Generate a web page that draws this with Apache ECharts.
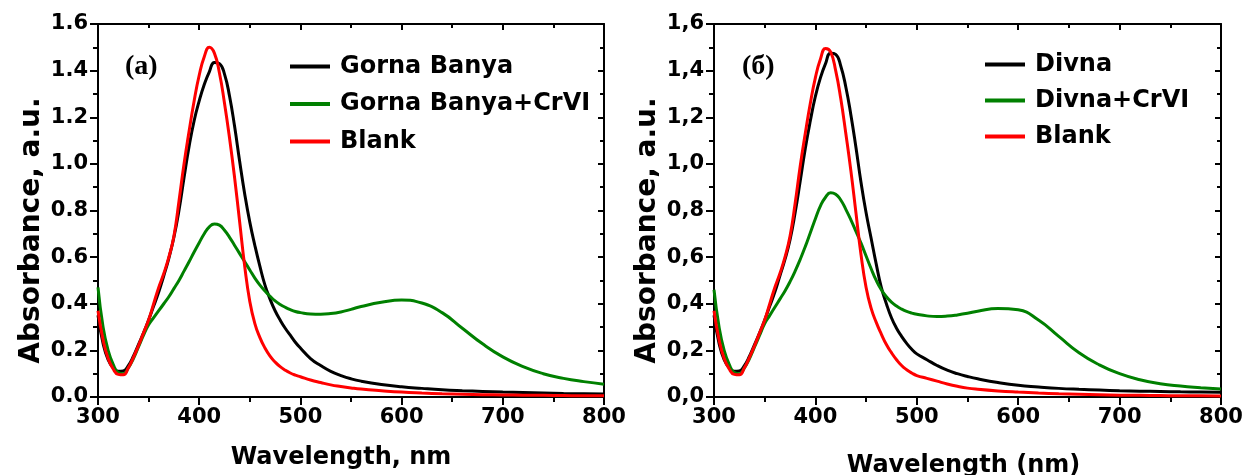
<!DOCTYPE html>
<html>
<head>
<meta charset="utf-8">
<script src="https://cdn.jsdelivr.net/npm/echarts@6/dist/echarts.min.js"></script>
<style>
html,body{margin:0;padding:0;background:#fff;}
#chart{width:1245px;height:475px;}
</style>
</head>
<body>
<div id="chart"></div>
<script>
// Sample wavelengths (nm)
const wavelengths = [300,305,310,315,320,325,330,335,340,345,350,355,360,365,370,375,380,385,390,395,400,405,410,415,420,425,430,435,440,445,450,455,460,465,470,475,480,485,490,495,500,510,520,530,540,550,560,580,600,620,640,660,680,700,720,740,760,780,800];

// Panel (a)
const gornaBanya = [0.35,0.23,0.16,0.125,0.11,0.112,0.135,0.175,0.225,0.275,0.33,0.39,0.45,0.52,0.595,0.685,0.80,0.94,1.075,1.185,1.27,1.34,1.395,1.435,1.43,1.385,1.29,1.16,1.01,0.87,0.75,0.65,0.56,0.48,0.42,0.37,0.33,0.295,0.265,0.235,0.21,0.165,0.135,0.11,0.092,0.078,0.068,0.054,0.044,0.037,0.031,0.027,0.024,0.021,0.019,0.017,0.015,0.014,0.013];
const gornaBanyaCrVI = [0.47,0.30,0.20,0.14,0.105,0.10,0.125,0.165,0.215,0.265,0.31,0.34,0.37,0.40,0.43,0.465,0.50,0.54,0.58,0.622,0.662,0.70,0.73,0.742,0.737,0.715,0.685,0.65,0.615,0.58,0.545,0.51,0.48,0.455,0.432,0.412,0.397,0.385,0.375,0.367,0.362,0.356,0.355,0.358,0.365,0.376,0.388,0.406,0.416,0.403,0.362,0.295,0.228,0.172,0.13,0.1,0.08,0.066,0.055];
const blankA = [0.37,0.245,0.165,0.12,0.097,0.095,0.125,0.17,0.22,0.275,0.33,0.40,0.47,0.53,0.60,0.69,0.84,1.00,1.14,1.27,1.38,1.46,1.50,1.475,1.39,1.26,1.11,0.94,0.75,0.56,0.41,0.315,0.255,0.21,0.175,0.15,0.13,0.115,0.103,0.094,0.087,0.073,0.062,0.052,0.045,0.039,0.034,0.027,0.021,0.017,0.014,0.012,0.010,0.009,0.008,0.007,0.006,0.005,0.005];

// Panel (б)
const divna = [0.35,0.23,0.16,0.125,0.11,0.112,0.135,0.175,0.225,0.275,0.33,0.39,0.45,0.52,0.59,0.675,0.79,0.925,1.065,1.185,1.29,1.37,1.43,1.475,1.47,1.42,1.33,1.21,1.07,0.92,0.79,0.68,0.57,0.47,0.40,0.34,0.295,0.26,0.23,0.205,0.185,0.16,0.135,0.115,0.10,0.088,0.078,0.062,0.05,0.043,0.037,0.033,0.03,0.027,0.025,0.024,0.022,0.021,0.02];
const divnaCrVI = [0.46,0.30,0.20,0.14,0.105,0.10,0.125,0.165,0.215,0.265,0.315,0.35,0.385,0.42,0.455,0.495,0.54,0.59,0.645,0.705,0.765,0.82,0.857,0.876,0.87,0.845,0.805,0.76,0.71,0.66,0.605,0.55,0.50,0.46,0.43,0.407,0.39,0.377,0.367,0.36,0.355,0.348,0.345,0.347,0.352,0.359,0.368,0.38,0.374,0.33,0.26,0.19,0.138,0.10,0.074,0.057,0.047,0.04,0.034];
const blankB = [0.37,0.245,0.165,0.12,0.097,0.095,0.125,0.17,0.22,0.275,0.33,0.40,0.47,0.53,0.60,0.69,0.83,0.99,1.13,1.26,1.37,1.45,1.495,1.48,1.40,1.28,1.13,0.97,0.79,0.61,0.47,0.38,0.32,0.27,0.225,0.19,0.16,0.135,0.117,0.103,0.092,0.08,0.068,0.056,0.046,0.038,0.033,0.026,0.021,0.017,0.014,0.012,0.01,0.008,0.007,0.006,0.005,0.005,0.004];

const legendA = ['Gorna Banya','Gorna Banya+CrVI','Blank'];
const legendB = ['Divna','Divna+CrVI','Blank'];
const panelLabels = ['(a)','(б)'];
const xTitles = ['Wavelength, nm','Wavelength (nm)'];
const yTitle = 'Absorbance, a.u.';

const FONT = 'DejaVu Sans';
const pairs = ys => wavelengths.map((w,i)=>[w, ys[i]]);

function xAxes(grid, title, gap, pad){
  return [{
    gridIndex: grid, type:'value', min:300, max:800, interval:100, position:'bottom',
    axisLine:{show:true, onZero:false, lineStyle:{color:'#000', width:2}},
    axisTick:{show:true, inside:false, length:8, lineStyle:{color:'#000', width:2}},
    minorTick:{show:true, splitNumber:2, length:5, lineStyle:{color:'#000', width:2}},
    splitLine:{show:false}, minorSplitLine:{show:false},
    axisLabel:{color:'#000', fontFamily:FONT, fontWeight:'bold', fontSize:21, margin:10},
    name:title, nameLocation:'middle', nameGap:gap,
    nameTextStyle:{color:'#000', fontFamily:FONT, fontWeight:'bold', fontSize:24, padding:pad}
  },{
    gridIndex: grid, type:'value', min:300, max:800, interval:100, position:'top',
    axisLine:{show:true, onZero:false, lineStyle:{color:'#000', width:2}},
    axisTick:{show:true, inside:true, length:6, lineStyle:{color:'#000', width:2}},
    minorTick:{show:true, splitNumber:2, length:4, lineStyle:{color:'#000', width:2}},
    splitLine:{show:false}, axisLabel:{show:false}
  }];
}
function yAxes(grid, fmt){
  return [{
    gridIndex: grid, type:'value', min:0, max:1.6, interval:0.2, position:'left',
    axisLine:{show:true, onZero:false, lineStyle:{color:'#000', width:2}},
    axisTick:{show:true, inside:false, length:8, lineStyle:{color:'#000', width:2}},
    minorTick:{show:true, splitNumber:2, length:5, lineStyle:{color:'#000', width:2}},
    splitLine:{show:false}, minorSplitLine:{show:false},
    axisLabel:{color:'#000', fontFamily:FONT, fontWeight:'bold', fontSize:21, margin:10, formatter:fmt},
    name:yTitle, nameLocation:'middle', nameGap:52, nameRotate:90,
    nameTextStyle:{color:'#000', fontFamily:FONT, fontWeight:'bold', fontSize:28, padding:[0,40,0,0]}
  },{
    gridIndex: grid, type:'value', min:0, max:1.6, interval:0.2, position:'right',
    axisLine:{show:true, onZero:false, lineStyle:{color:'#000', width:2}},
    axisTick:{show:true, inside:true, length:6, lineStyle:{color:'#000', width:2}},
    minorTick:{show:true, splitNumber:2, length:4, lineStyle:{color:'#000', width:2}},
    splitLine:{show:false}, axisLabel:{show:false}
  }];
}

function line(name, ys, color, xi, yi){
  return {name, type:'line', xAxisIndex:xi, yAxisIndex:yi, data:pairs(ys),
    showSymbol:false, symbol:'none', smooth:0.5, lineStyle:{color, width:3}, itemStyle:{color},
    clip:true, animation:false};
}

const legendText = {color:'#000', fontFamily:FONT, fontWeight:'bold', fontSize:24, lineHeight:29, padding:[0,0,0,5]};

const option = {
  animation:false,
  backgroundColor:'#fff',
  grid:[
    {left:98, right:641, top:24, bottom:78, containLabel:false, outerBoundsMode:'none'},
    {left:714, right:24, top:24, bottom:78, containLabel:false, outerBoundsMode:'none'}
  ],
  xAxis:[...xAxes(0, xTitles[0], 49, [0,20,0,0]), ...xAxes(1, xTitles[1], 57, [0,8,0,0])],
  yAxis:[...yAxes(0, v=>v.toFixed(1)), ...yAxes(1, v=>v.toFixed(1).replace('.', ','))],
  legend:[
    {data:legendA, orient:'vertical', left:290, top:52, padding:0, itemGap:8.5,
     itemWidth:40, itemHeight:4, icon:'rect', textStyle:legendText, selectedMode:false},
    {data:legendB, orient:'vertical', left:985, top:50, padding:0, itemGap:7,
     itemWidth:40, itemHeight:4, icon:'rect', textStyle:legendText, selectedMode:false}
  ],
  graphic:[
    {type:'text', left:125, top:53, style:{text:panelLabels[0], font:'bold 28px "Liberation Serif"', fill:'#000'}},
    {type:'text', left:742, top:53, style:{text:panelLabels[1], font:'bold 28px "Liberation Serif"', fill:'#000'}}
  ],
  series:[
    line('Gorna Banya', gornaBanya, '#000000', 0, 0),
    line('Gorna Banya+CrVI', gornaBanyaCrVI, '#008000', 0, 0),
    line('Blank', blankA, '#ff0000', 0, 0),
    line('Divna', divna, '#000000', 2, 2),
    line('Divna+CrVI', divnaCrVI, '#008000', 2, 2),
    line('Blank', blankB, '#ff0000', 2, 2)
  ]
};
const chart = echarts.init(document.getElementById('chart'), null, {renderer:'canvas'});
chart.setOption(option);
</script>
</body>
</html>
